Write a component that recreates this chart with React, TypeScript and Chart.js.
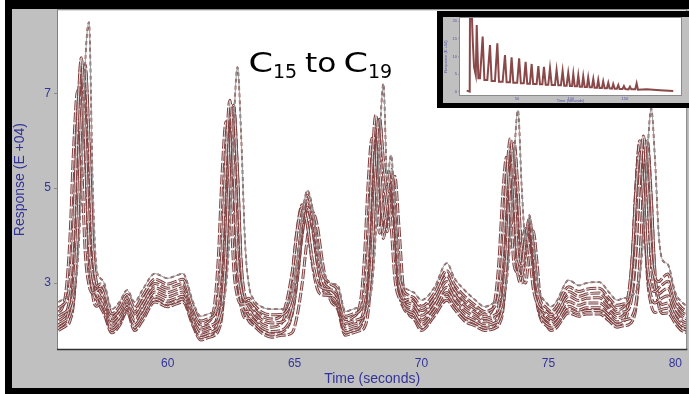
import { useEffect, useRef } from 'react';
import { Chart, registerables } from 'chart.js';

Chart.register(...registerables);

// ---- main chromatogram window (C15 to C19) ----
const times = [
  55.7, 55.85, 56.0, 56.15, 56.3, 56.45, 56.6, 56.75, 56.9, 57.05,
  57.2, 57.35, 57.5, 57.8, 58.1, 58.4, 58.7, 59.0, 59.5, 60.0,
  60.3, 60.6, 61.0, 61.3, 61.6, 61.85, 62.0, 62.15, 62.3, 62.45,
  62.6, 62.75, 62.9, 63.05, 63.2, 63.4, 63.7, 64.1, 64.5, 64.9,
  65.1, 65.3, 65.5, 65.7, 65.9, 66.1, 66.4, 66.7, 67.0, 67.3,
  67.6, 67.75, 67.9, 68.05, 68.2, 68.35, 68.5, 68.65, 68.8, 68.95,
  69.1, 69.3, 69.5, 69.7, 70.0, 70.5, 71.0, 71.3, 71.7, 72.1,
  72.5, 72.75, 72.9, 73.05, 73.2, 73.35, 73.5, 73.65, 73.8, 73.95,
  74.1, 74.25, 74.4, 74.55, 74.7, 74.9, 75.1, 75.3, 75.8, 76.2,
  76.5, 77.0, 77.4, 77.7, 77.95, 78.15, 78.3, 78.45, 78.6, 78.75,
  78.9, 79.05, 79.2, 79.35, 79.5, 79.7, 80.0, 80.25, 80.5,
];

const traceA = [
  2.6, 2.65, 2.7, 2.72, 2.85, 3.4, 5.0, 7.6, 8.5, 5.0,
  3.3, 3.1, 3.0, 2.45, 2.6, 2.85, 2.6, 2.85, 3.2, 3.1,
  3.15, 3.2, 2.6, 2.3, 2.35, 2.4, 2.45, 2.55, 2.94, 4.15,
  6.3, 7.55, 6.05, 3.85, 2.95, 2.65, 2.5, 2.45, 2.45, 2.8,
  3.47, 4.4, 4.95, 4.6, 3.82, 3.3, 3.0, 2.95, 2.4, 2.45,
  2.5, 2.52, 2.6, 2.94, 4.06, 6.0, 7.2, 5.2, 5.7, 4.6,
  3.4, 2.95, 2.85, 2.8, 2.64, 2.9, 3.42, 3.1, 2.85, 2.65,
  2.5, 2.55, 2.6, 2.62, 2.69, 2.99, 3.94, 5.64, 6.64, 5.0,
  3.9, 4.43, 3.9, 3.1, 2.75, 2.6, 2.5, 2.6, 3.06, 2.95,
  3.0, 3.02, 2.8, 2.64, 2.68, 2.7, 2.75, 2.82, 3.14, 4.08,
  5.71, 6.68, 5.6, 4.0, 3.48, 3.4, 2.8, 2.6, 2.5,
];

const traceB = [
  2.48, 2.53, 2.63, 3.01, 4.24, 6.45, 7.75, 6.19, 3.93, 3.13,
  2.93, 2.98, 2.87, 2.35, 2.5, 2.76, 2.48, 2.72, 3.08, 2.98,
  3.03, 3.08, 2.5, 2.2, 2.25, 2.34, 2.7, 3.79, 5.71, 6.85,
  5.5, 3.55, 2.86, 2.64, 2.68, 2.54, 2.39, 2.33, 2.34, 2.7,
  3.37, 4.31, 4.85, 4.5, 3.72, 3.21, 2.99, 2.85, 2.3, 2.35,
  2.44, 2.74, 3.74, 5.51, 6.54, 5.49, 4.32, 4.85, 5.4, 4.5,
  3.26, 2.84, 2.74, 2.69, 2.51, 2.78, 3.26, 2.97, 2.72, 2.54,
  2.4, 2.44, 2.52, 2.8, 3.65, 5.16, 6.05, 4.97, 3.54, 3.36,
  3.95, 4.35, 3.78, 2.95, 2.61, 2.49, 2.4, 2.49, 2.92, 2.82,
  2.87, 2.89, 2.68, 2.53, 2.56, 2.61, 2.9, 3.75, 5.22, 6.1,
  5.08, 3.59, 3.11, 3.03, 3.11, 3.19, 2.67, 2.48, 2.39,
];

const traceG = [
  2.39, 2.48, 2.85, 3.94, 5.89, 7.05, 5.68, 3.67, 2.96, 2.79,
  2.84, 2.89, 2.77, 2.28, 2.43, 2.69, 2.39, 2.62, 2.99, 2.89,
  2.94, 2.99, 2.43, 2.13, 2.18, 2.55, 3.57, 5.35, 6.4, 5.16,
  3.34, 2.71, 2.56, 2.56, 2.59, 2.46, 2.31, 2.24, 2.33, 3.21,
  4.11, 4.6, 4.24, 3.49, 3.01, 2.9, 2.86, 2.78, 2.23, 2.28,
  2.62, 3.51, 5.11, 6.05, 5.11, 4.05, 4.54, 5.05, 4.23, 3.1,
  2.71, 2.62, 2.66, 2.61, 2.42, 2.69, 3.15, 2.87, 2.62, 2.46,
  2.33, 2.39, 2.66, 3.45, 4.84, 5.65, 4.67, 3.37, 3.23, 3.78,
  4.15, 3.64, 2.9, 2.58, 2.45, 2.41, 2.33, 2.41, 2.82, 2.72,
  2.77, 2.79, 2.59, 2.44, 2.49, 2.75, 3.54, 4.93, 5.75, 4.79,
  3.4, 2.91, 2.82, 2.9, 2.97, 3.04, 2.57, 2.39, 2.31,
];

const traceC = [
  2.3, 2.35, 2.4, 2.49, 2.88, 4.13, 6.33, 7.6, 6.05, 3.8,
  3.0, 2.8, 2.68, 2.2, 2.35, 2.63, 2.3, 2.53, 2.9, 2.8,
  2.85, 2.9, 2.35, 2.05, 2.1, 2.15, 2.24, 2.6, 3.68, 5.59,
  6.7, 5.37, 3.43, 2.7, 2.5, 2.38, 2.23, 2.16, 2.18, 2.55,
  3.24, 4.21, 4.75, 4.38, 3.59, 3.07, 2.87, 2.7, 2.15, 2.2,
  2.25, 2.31, 2.62, 3.62, 5.37, 6.45, 5.6, 5.0, 5.2, 4.31,
  3.08, 2.67, 2.58, 2.53, 2.32, 2.6, 3.03, 2.78, 2.53, 2.38,
  2.25, 2.29, 2.33, 2.39, 2.66, 3.52, 5.06, 5.95, 5.0, 3.82,
  3.99, 4.25, 3.66, 2.82, 2.47, 2.33, 2.25, 2.33, 2.72, 2.63,
  2.68, 2.69, 2.5, 2.36, 2.39, 2.44, 2.73, 3.61, 5.15, 6.05,
  4.97, 3.41, 2.87, 2.77, 2.83, 2.89, 2.48, 2.3, 2.23,
];

const traceD = [
  2.21, 2.26, 2.36, 2.75, 3.98, 6.16, 7.45, 5.88, 3.65, 2.86,
  2.66, 2.71, 2.58, 2.13, 2.28, 2.56, 2.21, 2.43, 2.81, 2.71,
  2.76, 2.81, 2.28, 1.98, 2.03, 2.12, 2.47, 3.55, 5.43, 6.55,
  5.19, 3.28, 2.6, 2.39, 2.41, 2.29, 2.14, 2.07, 2.16, 3.13,
  4.12, 4.65, 4.24, 3.4, 2.87, 2.75, 2.74, 2.63, 2.08, 2.13,
  2.22, 2.52, 3.5, 5.24, 6.25, 5.21, 4.06, 4.57, 5.1, 4.22,
  3.02, 2.59, 2.49, 2.44, 2.22, 2.51, 2.91, 2.68, 2.43, 2.29,
  2.18, 2.21, 2.28, 2.55, 3.41, 4.94, 5.85, 4.76, 3.3, 3.15,
  3.79, 4.2, 3.61, 2.73, 2.37, 2.24, 2.18, 2.24, 2.61, 2.53,
  2.58, 2.58, 2.41, 2.27, 2.32, 2.6, 3.49, 5.04, 5.95, 4.85,
  3.27, 2.71, 2.58, 2.63, 2.69, 2.73, 2.38, 2.21, 2.14,
];

const traceE = [
  2.12, 2.17, 2.22, 2.31, 2.7, 3.92, 6.07, 7.3, 5.79, 3.59,
  2.81, 2.62, 2.48, 2.05, 2.2, 2.49, 2.12, 2.33, 2.72, 2.62,
  2.67, 2.72, 2.2, 1.9, 1.95, 2.0, 2.09, 2.45, 3.55, 5.49,
  6.6, 5.25, 3.28, 2.53, 2.32, 2.21, 2.06, 1.98, 2.01, 2.38,
  3.09, 4.06, 4.6, 4.22, 3.44, 2.92, 2.75, 2.55, 2.0, 2.05,
  2.14, 2.45, 3.46, 5.26, 6.3, 5.24, 4.07, 4.64, 5.2, 4.26,
  2.98, 2.52, 2.41, 2.36, 2.13, 2.42, 2.8, 2.58, 2.33, 2.21,
  2.1, 2.13, 2.16, 2.22, 2.49, 3.34, 4.86, 5.75, 4.8, 3.64,
  3.82, 4.1, 3.52, 2.65, 2.3, 2.16, 2.1, 2.16, 2.51, 2.43,
  2.48, 2.48, 2.32, 2.18, 2.22, 2.24, 2.3, 2.58, 3.44, 4.96,
  5.85, 4.77, 3.22, 2.67, 2.55, 2.58, 2.28, 2.12, 2.06,
];

const traceF = [
  2.06, 2.11, 2.21, 2.64, 3.97, 6.31, 7.7, 5.99, 3.58, 2.73,
  2.51, 2.56, 2.42, 2.0, 2.15, 2.45, 2.06, 2.27, 2.66, 2.56,
  2.61, 2.66, 2.15, 1.85, 1.9, 1.99, 2.34, 3.43, 5.33, 6.45,
  5.08, 3.16, 2.48, 2.26, 2.26, 2.16, 2.01, 1.92, 1.96, 2.33,
  3.04, 4.02, 4.55, 4.17, 3.39, 2.87, 2.71, 2.5, 1.95, 2.0,
  2.09, 2.39, 3.36, 5.09, 6.1, 5.08, 3.94, 4.46, 5.0, 4.11,
  2.9, 2.47, 2.36, 2.31, 2.06, 2.36, 2.72, 2.52, 2.27, 2.16,
  2.05, 2.07, 2.13, 2.41, 3.26, 4.76, 5.65, 4.58, 3.16, 3.0,
  3.63, 4.05, 3.47, 2.59, 2.25, 2.11, 2.05, 2.11, 2.44, 2.37,
  2.42, 2.42, 2.26, 2.13, 2.18, 2.48, 3.4, 5.04, 6.0, 4.83,
  3.14, 2.54, 2.38, 2.42, 2.45, 2.47, 2.22, 2.06, 2.0,
];

const traceH = [
  2.0, 2.05, 2.1, 2.2, 2.62, 3.91, 6.2, 7.5, 5.89, 3.54,
  2.71, 2.5, 2.35, 1.95, 2.1, 2.4, 2.0, 2.2, 2.6, 2.5,
  2.55, 2.6, 2.1, 1.8, 1.85, 1.9, 2.0, 2.37, 3.54, 5.59,
  6.75, 5.31, 3.22, 2.43, 2.2, 2.1, 1.95, 1.86, 1.9, 1.95,
  2.31, 2.99, 3.94, 4.5, 4.19, 3.44, 2.66, 2.45, 1.9, 1.95,
  2.0, 2.06, 2.4, 3.47, 5.35, 6.45, 5.33, 4.08, 4.66, 5.25,
  4.28, 2.78, 2.35, 2.25, 2.0, 2.3, 2.64, 2.45, 2.2, 2.1,
  2.0, 2.02, 2.05, 2.12, 2.4, 3.31, 4.94, 5.9, 4.73, 3.17,
  3.0, 3.67, 4.1, 3.44, 2.52, 2.15, 2.0, 2.05, 2.37, 2.3,
  2.35, 2.35, 2.2, 2.07, 2.1, 2.12, 2.19, 2.48, 3.4, 5.03,
  6.0, 4.83, 3.13, 2.52, 2.36, 2.37, 2.15, 2.0, 1.95,
];

const xTickValues = [60, 65, 70, 75, 80];
const yTickValues = [3, 5, 7];

// ---- inset: full chromatogram ----
const insetTimes = [
  3.4, 6.2, 6.5, 7.7, 9.0, 10.2, 11.8, 12.7, 14.2, 15.7,
  18.2, 19.8, 22.5, 25, 26.5, 29.6, 31.8, 33.3, 36.7, 38.9,
  40.4, 43.5, 45, 46.6, 50.2, 52, 53.6, 56.3, 58, 59.5,
  62, 63.6, 65, 68.2, 69.8, 71.3, 73.5, 75, 76.6, 79,
  80.6, 82.2, 85.2, 86.7, 88.3, 90.7, 92.3, 93.8, 96, 97.5,
  99.1, 101, 102.2, 103.5, 105.6, 106.8, 108.1, 110.2, 111.4, 112.7,
  114.8, 116, 117.3, 119.4, 120.7, 121.9, 124.1, 125.3, 126.5, 128.7,
  129.9, 131.2, 133.3, 134.6, 135.8, 138, 139.2, 140.5, 142.6, 143.9,
  145.1, 147.8, 149.1, 150.4, 153.4, 154.7, 155.9, 159.6, 160.9, 162.1,
  170.2, 182.5, 194.8,
];
const insetValues = [
  0.37, 0.09, 26, 26, 14.6, 7.1, 4.8, 18.9, 3.85, 3.85,
  15.6, 3.4, 3.4, 13.2, 3.1, 3.1, 13.7, 2.9, 2.9, 10.4,
  2.72, 2.72, 9.8, 2.63, 2.63, 9.5, 2.44, 2.44, 8.5, 2.35,
  2.35, 7.9, 2.25, 2.25, 7.3, 2.16, 2.16, 7.1, 2.07, 2.07,
  6.7, 1.97, 1.97, 6.2, 1.88, 1.88, 5.9, 1.78, 1.78, 5.4,
  1.69, 1.69, 5.1, 1.6, 1.6, 4.7, 1.5, 1.5, 4.4, 1.41,
  1.41, 4.1, 1.31, 1.31, 3.7, 1.22, 1.22, 3.4, 1.13, 1.13,
  3.0, 1.03, 1.03, 2.6, 1.03, 0.94, 2.25, 0.94, 0.94, 1.97,
  0.85, 0.85, 1.69, 0.85, 0.75, 1.5, 0.75, 0.75, 2.44, 0.66,
  0.75, 0.5, 0.3,
];
const insetXTicks = [50, 100, 150];
const insetYTicks = [0, 5, 10, 15, 20];

const AXIS_BLUE = '#333399';
const TRACE_RED = '#804040';
const TRACE_LIGHT = '#e2e2e2';

Chart.defaults.font.family = '"Liberation Sans", Arial, sans-serif';

function drawText(ctx: CanvasRenderingContext2D, text: string, x: number, y: number, size: number, sx: number) {
  ctx.save();
  ctx.translate(x, y);
  ctx.scale(sx, 1);
  ctx.font = `${size}px "DejaVu Sans"`;
  ctx.fillStyle = '#000000';
  ctx.textBaseline = 'alphabetic';
  ctx.textAlign = 'left';
  ctx.fillText(text, 0, 0);
  ctx.restore();
}

const mainFrame = {
  id: 'mainFrame',
  beforeDraw(chart: any) {
    const { ctx, width, height, chartArea: a } = chart;
    ctx.save();
    ctx.fillStyle = '#ffffff';
    ctx.fillRect(0, 0, width, height);
    ctx.fillStyle = '#000000';
    ctx.fillRect(5, 0, width - 5, height);
    ctx.fillStyle = '#c0c0c0';
    ctx.fillRect(12, 9, width - 12, 379);
    ctx.fillStyle = '#ffffff';
    ctx.fillRect(a.left, a.top, a.right - a.left, a.bottom - a.top);
    ctx.restore();
  },
  afterDatasetsDraw(chart: any) {
    const { ctx, chartArea: a } = chart;
    ctx.save();
    ctx.strokeStyle = '#808080';
    ctx.lineWidth = 1;
    ctx.strokeRect(a.left - 0.5, a.top - 0.5, a.right - a.left + 1, a.bottom - a.top + 1);
    ctx.strokeStyle = '#303030';
    ctx.lineWidth = 1.5;
    ctx.beginPath();
    ctx.moveTo(a.left - 1, a.bottom + 0.5);
    ctx.lineTo(a.right + 1, a.bottom + 0.5);
    ctx.stroke();
    ctx.restore();
  },
  afterDraw(chart: any) {
    const ctx = chart.ctx;
    drawText(ctx, 'C', 248.5, 72, 26, 1.35);
    drawText(ctx, '15', 273, 78, 19, 1);
    drawText(ctx, 'to', 305, 72, 26, 1.2);
    drawText(ctx, 'C', 343.5, 72, 26, 1.35);
    drawText(ctx, '19', 368, 78, 19, 1);
  },
};

const insetFrame = {
  id: 'insetFrame',
  beforeDraw(chart: any) {
    const { ctx, width, height, chartArea: a } = chart;
    ctx.save();
    ctx.fillStyle = '#000000';
    ctx.fillRect(0, 0, width, height);
    ctx.fillStyle = '#c0c0c0';
    ctx.fillRect(6, 6, width - 6, 86);
    ctx.fillStyle = '#ffffff';
    ctx.fillRect(a.left, a.top, a.right - a.left, a.bottom - a.top);
    ctx.restore();
  },
  afterDatasetsDraw(chart: any) {
    const { ctx, chartArea: a } = chart;
    ctx.save();
    ctx.strokeStyle = '#8a8a8a';
    ctx.lineWidth = 1;
    ctx.strokeRect(a.left - 0.5, a.top - 0.5, a.right - a.left + 1, a.bottom - a.top + 1);
    ctx.restore();
  },
};

export default function App() {
  const mainRef = useRef<HTMLCanvasElement>(null);
  const insetRef = useRef<HTMLCanvasElement>(null);

  useEffect(() => {
    if (!mainRef.current || !insetRef.current) return;
    const traces = [traceA, traceB, traceG, traceC, traceD, traceE, traceF, traceH];
    const datasets: any[] = [];
    traces.forEach((tr, k) => {
      const pts = times.map((t, i) => ({ x: t, y: tr[i] }));
      datasets.push({
        data: pts,
        borderColor: k === 0 ? '#9a9a9a' : TRACE_LIGHT,
        borderWidth: 1,
        pointRadius: 0,
        cubicInterpolationMode: 'monotone',
        fill: false,
      });
      datasets.push({
        data: pts,
        borderColor: TRACE_RED,
        borderWidth: k === 0 ? 1.8 : 3,
        borderDash: k === 0 ? [4, 3] : [10, 2],
        pointRadius: 0,
        cubicInterpolationMode: 'monotone',
        fill: false,
      });
    });

    const main = new Chart(mainRef.current, {
      type: 'line',
      data: { datasets },
      options: {
        responsive: false,
        animation: false,
        events: [],
        devicePixelRatio: 1,
        layout: { padding: { left: 12, top: 10, right: 1, bottom: 6 } },
        plugins: { legend: { display: false }, tooltip: { enabled: false }, title: { display: false } },
        scales: {
          x: {
            type: 'linear',
            min: 55.68,
            max: 80.43,
            afterBuildTicks: (s: any) => { s.ticks = xTickValues.map((value) => ({ value })); },
            afterFit: (s: any) => { s.height = 39; },
            grid: { display: false, drawTicks: false },
            border: { display: false },
            ticks: { color: AXIS_BLUE, font: { size: 12 }, padding: 7, maxRotation: 0, autoSkip: false },
            title: { display: true, text: 'Time (seconds)', color: AXIS_BLUE, font: { size: 14 }, padding: 0 },
          },
          y: {
            type: 'linear',
            min: 1.61,
            max: 8.75,
            afterBuildTicks: (s: any) => { s.ticks = yTickValues.map((value) => ({ value })); },
            afterFit: (s: any) => { s.width = 46; },
            grid: { drawOnChartArea: false, drawTicks: true, tickLength: 4, color: '#8a8a8a' },
            border: { display: false },
            ticks: { color: AXIS_BLUE, font: { size: 12 }, padding: 3 },
            title: { display: true, text: 'Response (E +04)', color: AXIS_BLUE, font: { size: 14 }, padding: 0 },
          },
        },
      },
      plugins: [mainFrame],
    } as any);

    const inset = new Chart(insetRef.current, {
      type: 'line',
      data: {
        datasets: [
          {
            data: insetTimes.map((t, i) => ({ x: t, y: insetValues[i] })),
            borderColor: '#8a4848',
            borderWidth: 2,
            pointRadius: 0,
            tension: 0,
            fill: false,
            clip: 0,
          },
        ],
      },
      options: {
        responsive: false,
        animation: false,
        events: [],
        devicePixelRatio: 1,
        layout: { padding: { left: 6, top: 7, right: 8, bottom: 5 } },
        plugins: { legend: { display: false }, tooltip: { enabled: false } },
        scales: {
          x: {
            type: 'linear',
            min: -2.8,
            max: 202,
            afterBuildTicks: (s: any) => { s.ticks = insetXTicks.map((value) => ({ value })); },
            afterFit: (s: any) => { s.height = 8; },
            grid: { display: false, drawTicks: false },
            border: { display: false },
            ticks: { color: '#5050a8', font: { size: 4 }, padding: 1, maxRotation: 0, autoSkip: false },
            title: { display: true, text: 'Time (seconds)', color: '#5050a8', font: { size: 4 }, padding: 0 },
          },
          y: {
            type: 'linear',
            min: -0.85,
            max: 20.85,
            afterBuildTicks: (s: any) => { s.ticks = insetYTicks.map((value) => ({ value })); },
            afterFit: (s: any) => { s.width = 17; },
            grid: { drawOnChartArea: false, drawTicks: true, tickLength: 2, color: '#999999' },
            border: { display: false },
            ticks: { color: '#5050a8', font: { size: 4 }, padding: 1 },
            title: { display: true, text: 'Response (E +04)', color: '#5050a8', font: { size: 4 }, padding: 0 },
          },
        },
      },
      plugins: [insetFrame],
    } as any);

    return () => {
      main.destroy();
      inset.destroy();
    };
  }, []);

  return (
    <div style={{ position: 'fixed', left: 0, top: 0, width: 689, height: 394, overflow: 'hidden', background: '#ffffff' }}>
      <canvas ref={mainRef} width={689} height={394} style={{ position: 'absolute', left: 0, top: 0, width: 689, height: 394 }} />
      <canvas ref={insetRef} width={252} height={97} style={{ position: 'absolute', left: 437, top: 11, width: 252, height: 97 }} />
    </div>
  );
}
